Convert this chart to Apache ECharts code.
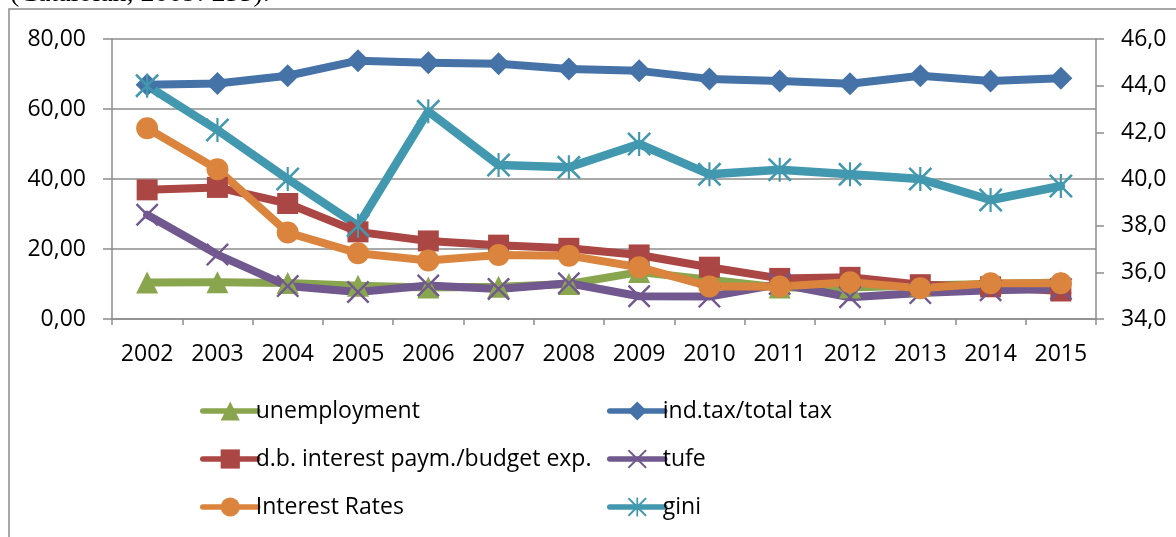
<!DOCTYPE html>
<html>
<head>
<meta charset="utf-8">
<style>
  html, body { margin: 0; padding: 0; background: #fff; }
  #chart { width: 1176px; height: 537px; }
</style>
<script src="https://cdn.jsdelivr.net/npm/echarts@6/dist/echarts.min.js"></script>
</head>
<body>
<div id="chart"></div>
<script>
// Years on the category axis
const years = ['2002', '2003', '2004', '2005', '2006', '2007', '2008',
               '2009', '2010', '2011', '2012', '2013', '2014', '2015'];

// Left-axis series (percent)
const unemployment   = [10.4, 10.5, 10.3, 9.5, 9.0, 9.2, 10.0, 13.4, 11.2, 9.0, 9.0, 9.6, 10.0, 10.4];
const indTax         = [66.9, 67.3, 69.5, 73.8, 73.2, 72.9, 71.4, 70.9, 68.6, 68.0, 67.2, 69.5, 68.0, 68.8];
const dbInterest     = [36.9, 37.6, 33.0, 24.9, 22.3, 21.1, 20.2, 18.3, 14.8, 11.6, 11.9, 9.8, 9.2, 8.0];
const tufe           = [29.8, 18.4, 9.4, 7.7, 9.6, 8.6, 10.2, 6.5, 6.4, 10.0, 6.2, 7.4, 8.2, 8.6];
const interestRates  = [54.5, 42.8, 24.7, 18.8, 16.7, 18.3, 18.1, 14.8, 9.3, 9.3, 10.5, 8.8, 10.2, 10.2];

// Right-axis series (gini coefficient)
const gini           = [44.0, 42.1, 40.0, 38.0, 42.9, 40.6, 40.5, 41.5, 40.2, 40.4, 40.2, 40.0, 39.1, 39.7];

// Axis tick labels
const leftTicks  = ['0,00', '20,00', '40,00', '60,00', '80,00'];
const rightTicks = ['34,0', '36,0', '38,0', '40,0', '42,0', '44,0', '46,0'];

const FONT = 'Open Sans';
const GRID_GRAY = '#8c8c8c';

// Marker shapes drawn as filled outlines
const crossPath = 'path://M0,1.5L1.5,0L10,8.5L18.5,0L20,1.5L11.5,10L20,18.5L18.5,20L10,11.5L1.5,20L0,18.5L8.5,10Z';
const starPath  = 'path://M0,1.5L1.5,0L10,8.5L18.5,0L20,1.5L11.5,10L20,18.5L18.5,20L10,11.5L1.5,20L0,18.5L8.5,10Z' +
                  'M9.1,0L10.9,0L10.9,20L9.1,20Z';

function lineSeries(name, data, color, symbol, size, axis, width) {
  return {
    name: name,
    type: 'line',
    data: data,
    yAxisIndex: axis,
    symbol: symbol,
    symbolSize: size,
    showAllSymbol: true,
    color: color,
    lineStyle: { color: color, width: width, type: 'solid', cap: 'round', join: 'round' },
    itemStyle: { color: color, borderWidth: 0 },
    emphasis: { disabled: true }
  };
}

const chart = echarts.init(document.getElementById('chart'), null, { renderer: 'canvas' });

const legendText = { color: '#000', fontSize: 23, fontFamily: FONT, lineHeight: 26, padding: [0, 0, 0, -7] };
const legendCommon = {
  orient: 'vertical',
  top: 393,
  itemWidth: 55, itemHeight: 24, itemGap: 22,
  lineStyle: { width: 5.5 },
  textStyle: legendText,
  selectedMode: false
};

chart.setOption({
  animation: false,
  backgroundColor: '#fff',
  textStyle: { fontFamily: FONT },
  graphic: [
    {
      type: 'rect',
      shape: { x: 9, y: 9, width: 1300, height: 700 },
      style: { fill: 'none', stroke: '#8a8a8a', lineWidth: 1.5 },
      silent: true
    },
    {
      type: 'text',
      style: {
        x: 10, y: -6,
        text: '(Cataloian, 2009: 255).',
        font: '28px "Liberation Serif"',
        fill: '#000',
        verticalAlign: 'middle'
      },
      silent: true
    }
  ],
  grid: { left: 112, right: 80, top: 39, bottom: 218 },
  xAxis: {
    type: 'category',
    data: years,
    boundaryGap: true,
    axisLine: { show: true, lineStyle: { color: GRID_GRAY, width: 1.5 } },
    axisTick: { show: true, length: 6, lineStyle: { color: GRID_GRAY, width: 1.5 } },
    axisLabel: { color: '#000', fontSize: 23, fontFamily: FONT, margin: 24 }
  },
  yAxis: [
    {
      type: 'value',
      position: 'left',
      min: 0, max: 80, interval: 20,
      axisLine: { show: true, lineStyle: { color: GRID_GRAY, width: 1.5 } },
      axisTick: { show: true, length: 9, lineStyle: { color: GRID_GRAY, width: 1.5 } },
      splitLine: { show: true, lineStyle: { color: GRID_GRAY, width: 1.5 } },
      axisLabel: {
        color: '#000', fontSize: 23, fontFamily: FONT, margin: 26,
        formatter: function (v) { return leftTicks[Math.round(v / 20)]; }
      }
    },
    {
      type: 'value',
      position: 'right',
      min: 34, max: 46, interval: 2,
      axisLine: { show: true, lineStyle: { color: GRID_GRAY, width: 1.5 } },
      axisTick: { show: true, length: 8, lineStyle: { color: GRID_GRAY, width: 1.5 } },
      splitLine: { show: false },
      axisLabel: {
        color: '#000', fontSize: 23, fontFamily: FONT, margin: 25,
        formatter: function (v) { return rightTicks[Math.round((v - 34) / 2)]; }
      }
    }
  ],
  legend: [
    Object.assign({ left: 195, data: ['unemployment', 'd.b. interest paym./budget exp.', 'Interest Rates'] }, legendCommon),
    Object.assign({ left: 602, data: ['ind.tax/total tax', 'tufe', 'gini'] }, legendCommon)
  ],
  series: [
    lineSeries('unemployment', unemployment, '#89A54E', 'triangle', 22, 0, 8),
    lineSeries('ind.tax/total tax', indTax, '#4572A7', 'diamond', 23, 0, 8),
    lineSeries('d.b. interest paym./budget exp.', dbInterest, '#AA4643', 'rect', 21, 0, 8),
    lineSeries('tufe', tufe, '#71588F', crossPath, 23, 0, 8),
    lineSeries('Interest Rates', interestRates, '#DB843D', 'circle', 22, 0, 8),
    lineSeries('gini', gini, '#4198AF', starPath, 24, 1, 8.5)
  ]
});
</script>
</body>
</html>
